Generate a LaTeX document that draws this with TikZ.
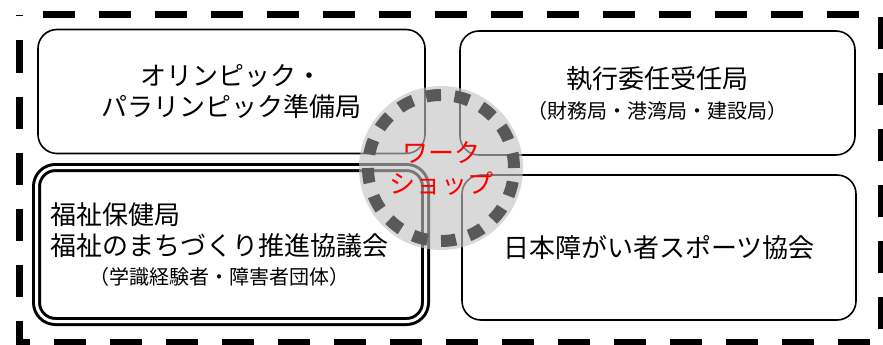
\documentclass[tikz,border=0pt]{standalone}
\usepackage{fontspec}
\setmainfont{Noto Sans CJK JP}
\usetikzlibrary{positioning}
\definecolor{wsfill}{RGB}{194,194,194}
\definecolor{wsdash}{RGB}{89,89,89}

\begin{document}
\begin{tikzpicture}[x=1pt,y=-1pt,
	orgbox/.style={draw,line width=1.6pt,rounded corners=19pt,align=center,inner sep=0pt,
		font=\fontsize{26}{31}\selectfont},
	dblbox/.style={orgbox,line width=3pt,double,double distance=3pt},
	frame/.style={line width=7pt,dash pattern=on 32pt off 24pt,dash phase=32.5pt},
	wsborder/.style={wsdash,line width=12pt,dash pattern=on 15pt off 13.67pt}]
	\useasboundingbox (0,0) rectangle (883,345);
	% outer frame
	\draw[frame] (19.5,15) -- (881,15) -- (881,342) -- (19.5,342) -- cycle;
	% four groups
	\node[orgbox,minimum width=387pt,minimum height=124pt] (olymp) at (231.5,91.5)
		{オリンピック・\\パラリンピック準備局};
	\node[orgbox,minimum width=395pt,minimum height=124pt] (exec) at (657.5,93)
		{執行委任受任局\\[-1pt]{\fontsize{20}{24}\selectfont （財務局・港湾局・建設局）}};
	\node[dblbox,align=left,text width=362pt,inner xsep=13.5pt,minimum height=154pt] (welfare) at (231,244.5)
		{福祉保健局\\福祉のまちづくり推進協議会\\[-2pt]\hspace*{39pt}{\fontsize{20}{24}\selectfont （学識経験者・障害者団体）}};
	\node[orgbox,minimum width=394pt,minimum height=145pt] (sports) at (659,247.5)
		{日本障がい者スポーツ協会};
	% workshop in the middle
	\fill[wsfill,fill opacity=0.62] (441,168) circle (82pt);
	\draw[wsborder] (441,168) circle (73pt);
	\node[align=center,text=red,font=\fontsize{26}{31}\selectfont] (ws) at (441,168) {ワーク\\ショップ};
\end{tikzpicture}
\end{document}
